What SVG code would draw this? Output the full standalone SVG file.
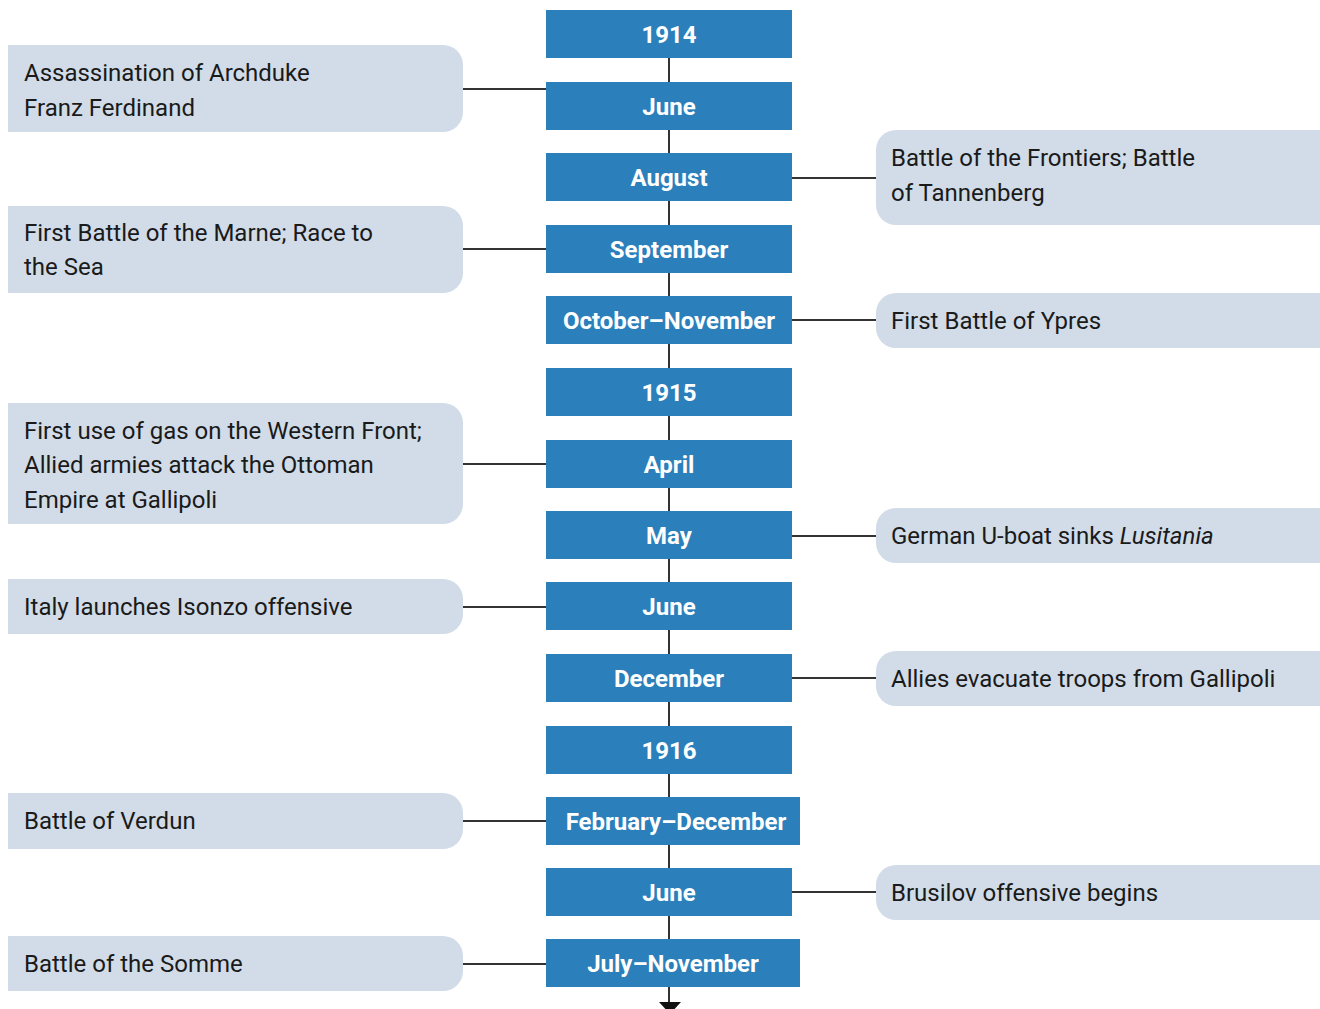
<svg xmlns="http://www.w3.org/2000/svg" width="1320" height="1009" viewBox="0 0 1320 1009">
<style>
.yr{fill:#2b7fbb}
.yt{font-family:Roboto,"Liberation Sans",sans-serif;font-weight:bold;font-size:24px;fill:#fff;text-anchor:middle}
.ev{fill:#d1dce8}
.et{font-family:Roboto,"Liberation Sans",sans-serif;font-size:24px;fill:#1a1a1a}
.ln{stroke:#333;stroke-width:2;fill:none}
</style>
<rect width="1320" height="1009" fill="#fff"/>
<g id="connectors">
<line class="ln" x1="669" y1="58" x2="669" y2="1002"/>
<polygon points="659,1002 681,1002 670,1014" fill="#111"/>
<line class="ln" x1="463" y1="89" x2="546" y2="89"/>
<line class="ln" x1="792" y1="178" x2="876" y2="178"/>
<line class="ln" x1="463" y1="249" x2="546" y2="249"/>
<line class="ln" x1="792" y1="320" x2="876" y2="320"/>
<line class="ln" x1="463" y1="464" x2="546" y2="464"/>
<line class="ln" x1="792" y1="536" x2="876" y2="536"/>
<line class="ln" x1="463" y1="607" x2="546" y2="607"/>
<line class="ln" x1="792" y1="678" x2="876" y2="678"/>
<line class="ln" x1="463" y1="821" x2="546" y2="821"/>
<line class="ln" x1="792" y1="892" x2="876" y2="892"/>
<line class="ln" x1="463" y1="964" x2="546" y2="964"/>
</g>
<g id="y1914"><rect class="yr" x="546" y="10" width="246" height="48"/><text class="yt" x="669" y="43">1914</text></g>
<g id="june1914"><rect class="yr" x="546" y="82" width="246" height="48"/><text class="yt" x="669" y="115">June</text></g>
<g id="aug1914"><rect class="yr" x="546" y="153" width="246" height="48"/><text class="yt" x="669" y="186">August</text></g>
<g id="sep1914"><rect class="yr" x="546" y="225" width="246" height="48"/><text class="yt" x="669" y="258">September</text></g>
<g id="octnov1914"><rect class="yr" x="546" y="296" width="246" height="48"/><text class="yt" x="669" y="329">October–November</text></g>
<g id="y1915"><rect class="yr" x="546" y="368" width="246" height="48"/><text class="yt" x="669" y="401">1915</text></g>
<g id="apr1915"><rect class="yr" x="546" y="440" width="246" height="48"/><text class="yt" x="669" y="473">April</text></g>
<g id="may1915"><rect class="yr" x="546" y="511" width="246" height="48"/><text class="yt" x="669" y="544">May</text></g>
<g id="june1915"><rect class="yr" x="546" y="582" width="246" height="48"/><text class="yt" x="669" y="615">June</text></g>
<g id="dec1915"><rect class="yr" x="546" y="654" width="246" height="48"/><text class="yt" x="669" y="687">December</text></g>
<g id="y1916"><rect class="yr" x="546" y="726" width="246" height="48"/><text class="yt" x="669" y="759">1916</text></g>
<g id="febdec1916"><rect class="yr" x="546" y="797" width="254" height="48"/><text class="yt" x="676" y="830">February–December</text></g>
<g id="june1916"><rect class="yr" x="546" y="868" width="246" height="48"/><text class="yt" x="669" y="901">June</text></g>
<g id="julnov1916"><rect class="yr" x="546" y="939" width="254" height="48"/><text class="yt" x="673" y="972">July–November</text></g>

<g id="ev-archduke"><path class="ev" d="M8,45 H443 A20,20 0 0 1 463,65 V112 A20,20 0 0 1 443,132 H8 Z"/><text class="et" x="24" y="81">Assassination of Archduke</text><text class="et" x="24" y="116">Franz Ferdinand</text></g>
<g id="ev-marne"><path class="ev" d="M8,206 H443 A20,20 0 0 1 463,226 V273 A20,20 0 0 1 443,293 H8 Z"/><text class="et" x="24" y="241">First Battle of the Marne; Race to</text><text class="et" x="24" y="275">the Sea</text></g>
<g id="ev-gas"><path class="ev" d="M8,403 H443 A20,20 0 0 1 463,423 V504 A20,20 0 0 1 443,524 H8 Z"/><text class="et" x="24" y="439">First use of gas on the Western Front;</text><text class="et" x="24" y="473">Allied armies attack the Ottoman</text><text class="et" x="24" y="508">Empire at Gallipoli</text></g>
<g id="ev-isonzo"><path class="ev" d="M8,579 H443 A20,20 0 0 1 463,599 V614 A20,20 0 0 1 443,634 H8 Z"/><text class="et" x="24" y="615">Italy launches Isonzo offensive</text></g>
<g id="ev-verdun"><path class="ev" d="M8,793 H443 A20,20 0 0 1 463,813 V829 A20,20 0 0 1 443,849 H8 Z"/><text class="et" x="24" y="829">Battle of Verdun</text></g>
<g id="ev-somme"><path class="ev" d="M8,936 H443 A20,20 0 0 1 463,956 V971 A20,20 0 0 1 443,991 H8 Z"/><text class="et" x="24" y="972">Battle of the Somme</text></g>

<g id="ev-frontiers"><path class="ev" d="M1320,130 H896 A20,20 0 0 0 876,150 V205 A20,20 0 0 0 896,225 H1320 Z"/><text class="et" x="891" y="166">Battle of the Frontiers; Battle</text><text class="et" x="891" y="201">of Tannenberg</text></g>
<g id="ev-ypres"><path class="ev" d="M1320,293 H896 A20,20 0 0 0 876,313 V328 A20,20 0 0 0 896,348 H1320 Z"/><text class="et" x="891" y="329">First Battle of Ypres</text></g>
<g id="ev-lusitania"><path class="ev" d="M1320,508 H896 A20,20 0 0 0 876,528 V543 A20,20 0 0 0 896,563 H1320 Z"/><text class="et" x="891" y="544">German U-boat sinks <tspan font-style="italic">Lusitania</tspan></text></g>
<g id="ev-evacuate"><path class="ev" d="M1320,651 H896 A20,20 0 0 0 876,671 V686 A20,20 0 0 0 896,706 H1320 Z"/><text class="et" x="891" y="687">Allies evacuate troops from Gallipoli</text></g>
<g id="ev-brusilov"><path class="ev" d="M1320,865 H896 A20,20 0 0 0 876,885 V900 A20,20 0 0 0 896,920 H1320 Z"/><text class="et" x="891" y="901">Brusilov offensive begins</text></g>
</svg>
